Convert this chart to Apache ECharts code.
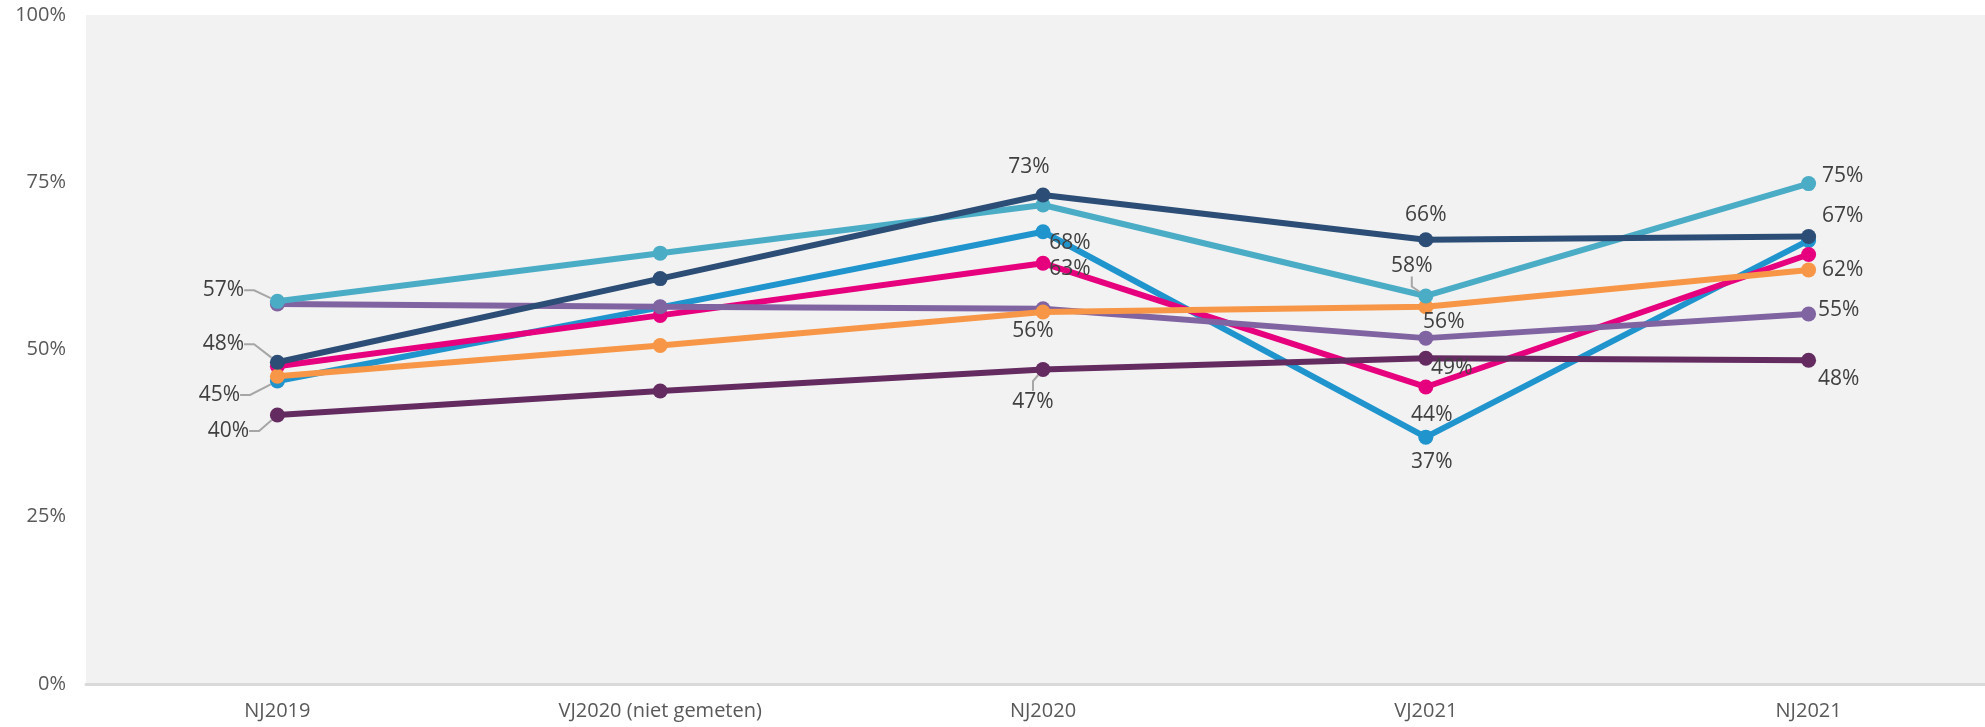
<!DOCTYPE html>
<html>
<head>
<meta charset="utf-8">
<script src="https://cdn.jsdelivr.net/npm/echarts@6/dist/echarts.min.js"></script>
<style>
html,body{margin:0;padding:0;background:#fff;overflow:hidden;width:1985px;height:727px;}
#c{width:2000px;height:727px;}
</style>
</head>
<body>
<div id="c"></div>
<script>
const categories = ['NJ2019', 'VJ2020 (niet gemeten)', 'NJ2020', 'VJ2021', 'NJ2021'];
const yTicks = [0, 25, 50, 75, 100];

const seriesBlue = [45.3, 56.3, 67.6, 36.9, 66.3];
const seriesMagenta = [47.5, 55.1, 62.9, 44.4, 64.2];
const seriesPurple = [56.8, 56.4, 56.1, 51.7, 55.3];
const seriesDarkPurple = [40.2, 43.8, 47.0, 48.7, 48.4];
const seriesOrange = [46.0, 50.6, 55.6, 56.4, 61.9];
const seriesTeal = [57.2, 64.4, 71.6, 58.0, 74.8];
const seriesNavy = [48.1, 60.6, 73.1, 66.4, 66.9];

// styling: label placement (pixel offsets from the marker) and which points are labelled
const seriesStyle = [
  { name: 'Blue', data: seriesBlue, color: '#1F94CD',
    labels: { 0: [-58, 14, true], 2: [27, 11], 3: [6, 25] } },
  { name: 'Magenta', data: seriesMagenta, color: '#E6007E',
    labels: { 2: [27, 6], 3: [6, 28] } },
  { name: 'Purple', data: seriesPurple, color: '#8064A2',
    labels: { 4: [30, -4] } },
  { name: 'DarkPurple', data: seriesDarkPurple, color: '#632B60',
    labels: { 0: [-49, 16, true], 2: [-10, 32, true], 3: [26, 10], 4: [30, 19] } },
  { name: 'Orange', data: seriesOrange, color: '#F79646',
    labels: { 2: [-10, 19], 3: [18, 15], 4: [34, 0] } },
  { name: 'Teal', data: seriesTeal, color: '#4BACC6',
    labels: { 0: [-54, -11, true], 3: [-14, -30, true], 4: [34, -8] } },
  { name: 'Navy', data: seriesNavy, color: '#2C4D75',
    labels: { 0: [-54, -18, true], 2: [-14, -28], 3: [0, -25], 4: [34, -20] } }
];

const chart = echarts.init(document.getElementById('c'), null, { renderer: 'canvas' });

const series = seriesStyle.map((s, si) => ({
  name: s.name,
  type: 'line',
  data: s.data.map((v, i) => {
    const l = s.labels[i];
    return {
      value: v,
      label: { show: !!l },
      labelLine: { show: !!(l && l[2]) }
    };
  }),
  symbol: 'circle',
  symbolSize: 15,
  lineStyle: { width: 6, color: s.color },
  itemStyle: { color: s.color },
  z: 2 + si,
  label: {
    show: false,
    formatter: p => Math.round(p.value) + '%',
    fontFamily: 'Open Sans',
    fontSize: 21,
    color: '#404040'
  },
  labelLine: {
    show: false,
    length2: 10,
    lineStyle: { color: '#A6A6A6', width: 2 }
  },
  labelLayout: function (p) {
    const l = s.labels[p.dataIndex];
    if (!l) return {};
    const cx = p.rect.x + p.rect.width / 2;
    const cy = p.rect.y + p.rect.height / 2;
    return {
      x: cx + l[0] - p.labelRect.width / 2,
      y: cy + l[1] - p.labelRect.height / 2,
      align: 'left',
      verticalAlign: 'top'
    };
  },
  emphasis: { disabled: true },
  animation: false
}));

chart.setOption({
  animation: false,
  backgroundColor: '#ffffff',
  grid: {
    left: 86, top: 15, bottom: 43, right: 0,
    show: true, backgroundColor: '#F2F2F2', borderWidth: 0
  },
  xAxis: {
    type: 'category',
    data: categories,
    boundaryGap: true,
    axisLine: { show: true, lineStyle: { color: '#D9D9D9', width: 3 } },
    axisTick: { show: false },
    axisLabel: { color: '#595959', fontFamily: 'Open Sans', fontSize: 20, margin: 17 }
  },
  yAxis: {
    type: 'value',
    min: yTicks[0], max: yTicks[yTicks.length - 1], interval: 25,
    axisLine: { show: false },
    axisTick: { show: false },
    splitLine: { show: false },
    axisLabel: { color: '#595959', fontFamily: 'Open Sans', fontSize: 20, margin: 20,
      formatter: v => v + '%' }
  },
  series: series
});
</script>
</body>
</html>
